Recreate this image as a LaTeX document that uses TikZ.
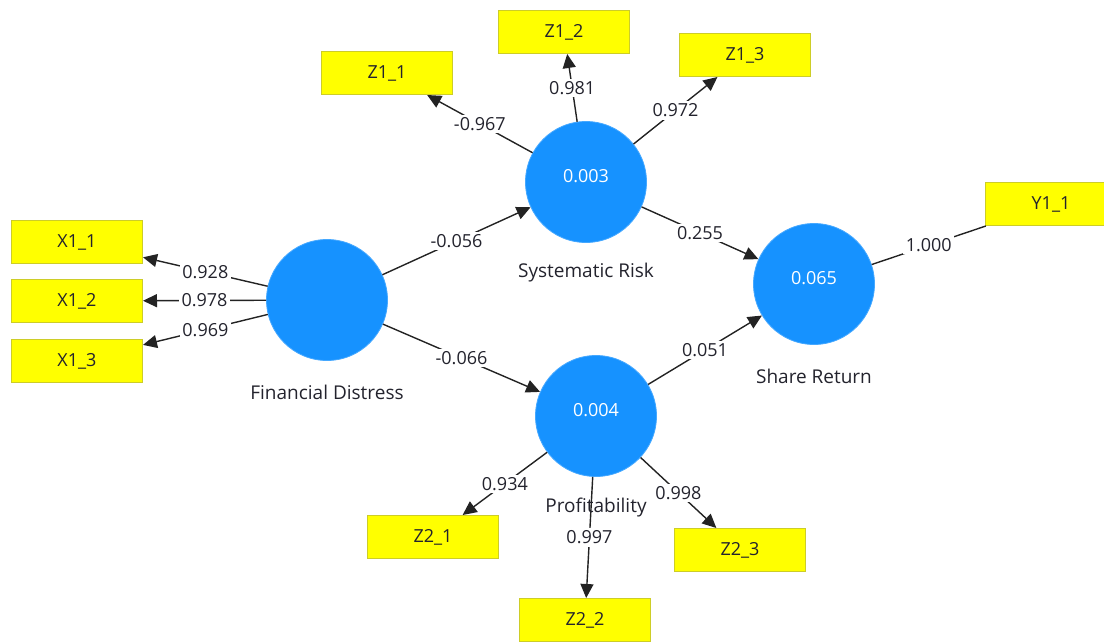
\documentclass[tikz,border=0pt]{standalone}
\usepackage{fontspec}
\setmainfont{Open Sans}
\usetikzlibrary{arrows.meta,calc}
\definecolor{lvblue}{RGB}{22,146,255}
\definecolor{boxyellow}{RGB}{255,255,0}
\definecolor{boxborder}{RGB}{205,205,40}
\definecolor{linegray}{RGB}{35,35,35}
\definecolor{txtgray}{RGB}{35,35,45}
\begin{document}
\begin{tikzpicture}[x=1pt,y=-1pt,
  latent/.style={circle, fill=lvblue, draw=lvblue!80!white, line width=0.8pt, minimum size=121pt, inner sep=0pt},
  lvvalue/.style={text=white, font=\fontsize{18}{20}\selectfont, yshift=6pt},
  ind/.style={rectangle, fill=boxyellow, draw=boxborder, line width=1pt, minimum width=131pt, minimum height=43pt, inner sep=0pt, text=txtgray, font=\fontsize{18}{20}\selectfont},
  arr/.style={draw=linegray, line width=1.4pt, -{Triangle[length=14pt,width=13pt]}},
  plainline/.style={draw=linegray, line width=1.4pt},
  coef/.style={fill=white, inner sep=2.5pt, text=txtgray, font=\fontsize{18}{20}\selectfont},
  lvcaption/.style={text=txtgray, font=\fontsize{19}{21}\selectfont}
]
\useasboundingbox (0,0) rectangle (1104,641);
\clip (0,0) rectangle (1104,641);
% latent variables
\node[latent] (fd) at (327,300) {};
\node[latent, label={[lvvalue]center:0.003}] (sr) at (586,182) {};
\node[latent, label={[lvvalue]center:0.065}] (ret) at (814,284) {};
\node[latent, label={[lvvalue]center:0.004}] (pr) at (596,416) {};
% captions
\node[lvcaption] (fdcap) at ($(fd)+(0,92)$) {Financial Distress};
\node[lvcaption] (srcap) at ($(sr)+(0,91)$) {Systematic Risk};
\node[lvcaption] (retcap) at ($(ret)+(0,92)$) {Share Return};
% indicators
\node[ind] (x11) at (77,242) {X1\_1};
\node[ind] (x12) at (77,301) {X1\_2};
\node[ind] (x13) at (77,361) {X1\_3};
\node[ind] (z11) at (387,73) {Z1\_1};
\node[ind] (z12) at (564,32) {Z1\_2};
\node[ind] (z13) at (745,55) {Z1\_3};
\node[ind] (y11) at (1051,204) {Y1\_1};
\node[ind] (z21) at (433,537) {Z2\_1};
\node[ind] (z22) at (585,620) {Z2\_2};
\node[ind] (z23) at (740,550) {Z2\_3};
% outer loadings
\draw[arr] (fd) -- node[coef] {0.928} (x11);
\draw[arr] (fd) -- node[coef] {0.978} (x12);
\draw[arr] (fd) -- node[coef] {0.969} (x13);
\draw[arr] (sr) -- node[coef] {-0.967} (z11);
\draw[arr] (sr) -- node[coef] {0.981} (z12);
\draw[arr] (sr) -- node[coef] {0.972} (z13);
\draw[arr] (pr) -- node[coef] {0.934} (z21);
\draw[arr] (pr) -- node[coef] {0.997} (z22);
\draw[arr] (pr) -- node[coef] {0.998} (z23);
\draw[plainline] (ret) -- node[coef] {1.000} (y11);
% path coefficients
\draw[arr] (fd) -- node[coef] {-0.056} (sr);
\draw[arr] (fd) -- node[coef] {-0.066} (pr);
\draw[arr] (sr) -- node[coef] {0.255} (ret);
\draw[arr] (pr) -- node[coef] {0.051} (ret);
% caption drawn over the loading line
\node[lvcaption] (prcap) at ($(pr)+(0,92)$) {Profitability};
\end{tikzpicture}
\end{document}
